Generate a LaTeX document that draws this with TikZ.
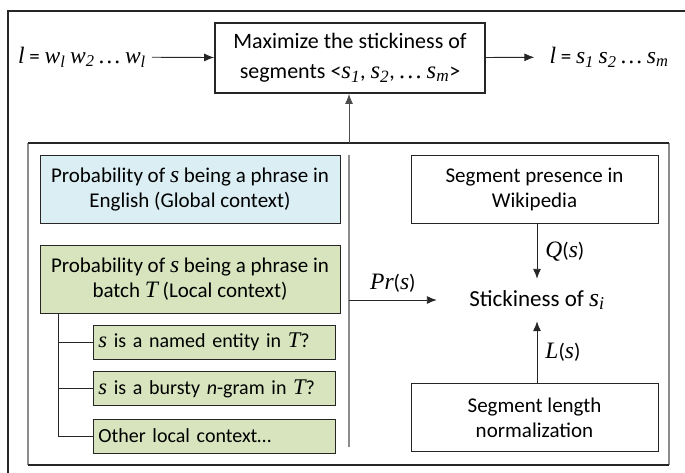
\documentclass[tikz,border=0pt]{standalone}
\usepackage{fontspec}
\setmainfont{Carlito}
\newfontfamily\tnr[Scale=1.12]{Liberation Serif}
\usetikzlibrary{arrows.meta}
\definecolor{globalblue}{HTML}{DAEEF3}
\definecolor{localgreen}{HTML}{D7E4BD}
\definecolor{framegray}{HTML}{8C8C8C}
\newcommand{\tmi}[1]{{\tnr\itshape #1}}
\newcommand{\tsb}[2]{{\tnr\itshape #1\textsubscript{#2}}}
\tikzset{
  txt/.style={font=\fontsize{21}{25}\selectfont, align=center, inner sep=0pt},
  plainbox/.style={txt, draw=black!85, line width=0.9pt, minimum width=247pt, minimum height=68pt},
  globalbox/.style={plainbox, fill=globalblue, minimum width=300pt},
  localbox/.style={globalbox, fill=localgreen},
  subbox/.style={plainbox, font=\fontsize{20}{24}\selectfont, fill=localgreen, minimum width=242pt, minimum height=34pt, anchor=west, text width=232pt, inner xsep=5pt, align=left},
  arr/.style={draw=black!85, line width=0.9pt, -{Latex[length=10pt,width=8pt]}},
}
\begin{document}
\begin{tikzpicture}[x=1pt,y=-1pt]
    \useasboundingbox (0,0) rectangle (685,472);
    \clip (0,0) rectangle (685,472);
    \draw[black!85, line width=2.5pt] (8,11) rectangle (700,490);
    \draw[framegray, line width=1.5pt] (28,143) -- (28,465) (669,143) -- (669,465);
    \draw[black!85, line width=1.2pt] (28,143) -- (669,143) (28,465) -- (669,465);

    \node[txt] (words) at (82,57) {\tmi{l} = \tsb{w}{l} \tsb{w}{2} \tmi{…} \tsb{w}{l}};
    \node[plainbox, line width=1.8pt, minimum width=270pt, minimum height=70pt, font=\fontsize{22}{30}\selectfont] (maxbox) at (350,58) {Maximize the stickiness of\\segments <\tsb{s}{1}, \tsb{s}{2}, \tmi{…} \tsb{s}{m}>};
    \node[txt] (segs) at (609,57) {\tmi{l} = \tsb{s}{1} \tsb{s}{2} \tmi{…} \tsb{s}{m}};
    \draw[arr, shorten <=6pt] (words) -- (maxbox);
    \draw[arr, shorten >=15pt] (maxbox) -- (segs);
    \coordinate (up) at (349,143);
    \draw[arr, draw=black!70] (up) -- (maxbox.south -| up);

    \node[globalbox] (global) at (190,189.5) {Probability of \tmi{s} being a phrase in\\English (Global context)};
    \node[localbox] (local) at (190,279) {Probability of \tmi{s} being a phrase in\\batch \tmi{T} (Local context)};
    \node[subbox] (named) at (93,342) {\tmi{s} is a named entity in \tmi{T}?};
    \node[subbox] (bursty) at (93,388.5) {\tmi{s} is a bursty \textit{n}-gram in \tmi{T}?};
    \node[subbox] (other) at (93,436) {Other local context…};
    \coordinate (trunk) at (58,313);
    \draw[black!85, line width=0.9pt] (trunk) |- (other.west);
    \draw[black!85, line width=0.9pt] (trunk |- named) -- (named.west);
    \draw[black!85, line width=0.9pt] (trunk |- bursty) -- (bursty.west);

    \coordinate (septop) at (349,155);
    \coordinate (sepbot) at (349,447);
    \draw[framegray, line width=1.2pt] (septop) -- (sepbot);

    \node[plainbox] (wiki) at (534.5,189) {Segment presence in\\Wikipedia};
    \node[plainbox] (norm) at (534.5,417.5) {Segment length\\normalization};
    \node[txt, font=\fontsize{23}{27}\selectfont, minimum width=200pt, minimum height=42pt] (stick) at (537,300) {Stickiness of \tsb{s}{i}};
    \coordinate (prfrom) at (349,300);
    \draw[arr] (prfrom) -- (stick.west) node[txt, midway, above=7pt] {\tmi{Pr}(\tmi{s})};
    \draw[arr] (wiki.south -| stick) -- (stick.north) node[txt, midway, right=8pt] {\tmi{Q}(\tmi{s})};
    \draw[arr] (norm.north -| stick) -- (stick.south) node[txt, midway, right=8pt] {\tmi{L}(\tmi{s})};
\end{tikzpicture}
\end{document}
